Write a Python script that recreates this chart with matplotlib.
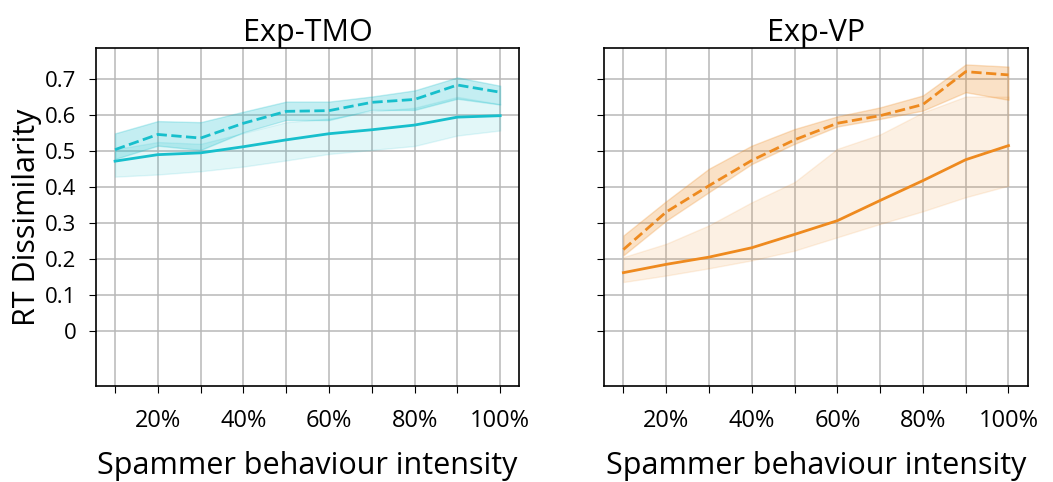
import numpy as np
import matplotlib
matplotlib.use("Agg")
import matplotlib.pyplot as plt

plt.rcParams['font.family'] = ['Open Sans', 'DejaVu Sans']

# spammer intensity steps 10%..100%
steps = np.arange(1, 11)
tick_labels = ['', '20%', '', '40%', '', '60%', '', '80%', '', '100%']
titles = ['Exp-TMO', 'Exp-VP']

# Exp-TMO
tmo_solid = [0.472, 0.490, 0.495, 0.512, 0.531, 0.548, 0.559, 0.572, 0.594, 0.598]
tmo_solid_lo = [0.429, 0.435, 0.444, 0.457, 0.474, 0.492, 0.503, 0.514, 0.543, 0.557]
tmo_solid_hi = [0.505, 0.525, 0.520, 0.550, 0.580, 0.590, 0.610, 0.620, 0.650, 0.630]
tmo_dash = [0.504, 0.546, 0.536, 0.577, 0.610, 0.612, 0.635, 0.643, 0.683, 0.663]
tmo_dash_lo = [0.478, 0.515, 0.503, 0.552, 0.586, 0.586, 0.614, 0.614, 0.645, 0.629]
tmo_dash_hi = [0.549, 0.583, 0.580, 0.609, 0.637, 0.637, 0.651, 0.668, 0.704, 0.681]

# Exp-VP
vp_solid = [0.163, 0.186, 0.206, 0.232, 0.269, 0.307, 0.363, 0.418, 0.476, 0.515]
vp_solid_lo = [0.137, 0.155, 0.175, 0.197, 0.224, 0.261, 0.298, 0.333, 0.372, 0.404]
vp_solid_hi = [0.206, 0.243, 0.294, 0.358, 0.414, 0.506, 0.546, 0.607, 0.651, 0.651]
vp_dash = [0.227, 0.331, 0.404, 0.474, 0.531, 0.577, 0.598, 0.629, 0.720, 0.711]
vp_dash_lo = [0.211, 0.307, 0.386, 0.464, 0.520, 0.568, 0.589, 0.612, 0.663, 0.642]
vp_dash_hi = [0.266, 0.361, 0.451, 0.515, 0.561, 0.596, 0.621, 0.654, 0.740, 0.734]

colors = ['#17bfcc', '#ee8a1f']
panels = [
    (tmo_solid, tmo_solid_lo, tmo_solid_hi, tmo_dash, tmo_dash_lo, tmo_dash_hi),
    (vp_solid, vp_solid_lo, vp_solid_hi, vp_dash, vp_dash_lo, vp_dash_hi),
]

fig, axes = plt.subplots(1, 2, figsize=(10.53, 4.82), dpi=100, sharey=True)
fig.subplots_adjust(left=0.091, right=0.976, top=0.90, bottom=0.20, wspace=0.2)

for i, ax in enumerate(axes):
    s, slo, shi, d, dlo, dhi = panels[i]
    c = colors[i]
    ax.fill_between(steps, slo, shi, color=c, alpha=0.12, lw=1)
    ax.plot(steps, s, color=c, lw=2)
    ax.fill_between(steps, dlo, dhi, color=c, alpha=0.25, lw=1)
    ax.plot(steps, d, color=c, lw=2, ls='--')

    ax.set_title(titles[i], fontsize=22, pad=3)
    ax.set_xlim(0.55, 10.45)
    ax.set_ylim(-0.15, 0.785)
    ax.set_xticks(steps)
    ax.set_xticklabels(tick_labels, fontsize=17)
    ax.set_yticks(np.arange(0, 0.71, 0.1))
    ax.set_yticklabels(['0', '0.1', '0.2', '0.3', '0.4', '0.5', '0.6', '0.7'], fontsize=16)
    ax.grid(True, color='#b8b8b8', lw=1.1)
    ax.set_axisbelow(True)
    ax.tick_params(axis='x', length=5, pad=12)
    ax.tick_params(axis='y', length=5, pad=9)
    ax.set_xlabel('Spammer behaviour intensity', fontsize=22, labelpad=13)
    for sp in ax.spines.values():
        sp.set_linewidth(1.2)

axes[0].set_ylabel('RT Dissimilarity', fontsize=22, labelpad=2)
axes[1].tick_params(labelleft=False)

fig.savefig('out.png')
